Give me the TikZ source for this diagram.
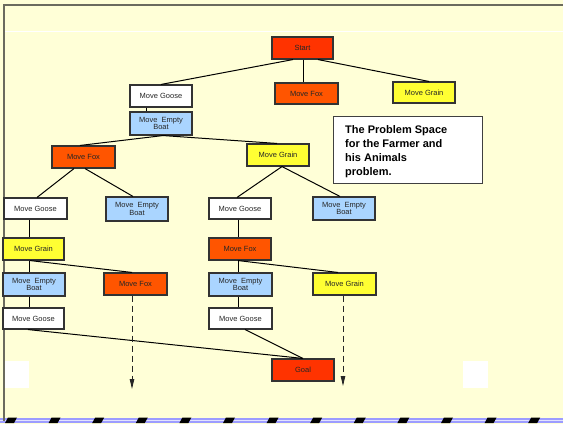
\documentclass[tikz,border=0pt]{standalone}
\usepackage{fontspec}
\setmainfont{Liberation Sans}
\usetikzlibrary{arrows.meta}
\definecolor{bgy}{HTML}{FFFFD7}
\definecolor{cstart}{HTML}{FF3300}
\definecolor{cfox}{HTML}{FF5500}
\definecolor{cgrain}{HTML}{FFFF33}
\definecolor{cboat}{HTML}{AAD5FF}
\definecolor{cframe}{HTML}{6B6B5E}
\definecolor{cstripe}{HTML}{9C9CFF}
\tikzset{
  nd/.style={draw=black!80, line width=1.1pt, minimum width=62pt, minimum height=22pt,
    inner sep=0pt, font=\fontsize{7.5}{7.5}\selectfont, text=black!85, align=center},
  startbox/.style={nd, fill=cstart},
  foxbox/.style={nd, fill=cfox},
  grainbox/.style={nd, fill=cgrain},
  boatbox/.style={nd, fill=cboat, minimum height=23pt},
  goosebox/.style={nd, fill=white},
  edge/.style={line width=1pt, black},
  darrow/.style={line width=0.9pt, black!85, dash pattern=on 6pt off 4pt, -{Triangle[length=10pt,width=4.5pt]}}
}
\begin{document}
\begin{tikzpicture}[x=1pt,y=-1pt]
\useasboundingbox (0,0) rectangle (563,424);
\fill[bgy] (0,0) rectangle (563,424);
\draw[white, line width=1pt] (4,31.5) -- (563,31.5);
% bottom stripe
\fill[cstripe] (0,417.5) rectangle (563,423);
\draw[white!70!cstripe, line width=0.8pt] (0,420.2) -- (563,420.2);
\foreach \k in {0,...,12}{
  \pgfmathsetmacro{\cx}{11+43.6*\k}
  \fill[black] (\cx-6,423) -- (\cx+3,423) -- (\cx+6,417.5) -- (\cx-3,417.5) -- cycle;
}
% frame
\draw[cframe, line width=2pt] (3,5) -- (563,5);
\draw[cframe, line width=1.5pt] (3.75,4) -- (3.75,421);
% white squares
\fill[white] (5,361) rectangle (29,388);
\fill[white] (463,361) rectangle (488,388);

% nodes
\node[startbox, minimum width=61pt] (start) at (302.5,48) {Start};
\node[foxbox, minimum width=63pt, minimum height=21pt] (foxA) at (306.5,93.5) {Move Fox};
\node[goosebox] (gooseA) at (161,96) {Move Goose};
\node[grainbox, minimum height=21pt] (grainA) at (424,92.5) {Move Grain};
\node[boatbox] (boatA) at (161,123.5) {Move\ \ Empty\\Boat};
\node[foxbox, minimum width=63pt] (foxB) at (83.5,157) {Move Fox};
\node[grainbox] (grainB) at (278,155) {Move Grain};
\node[goosebox, minimum width=63pt, minimum height=21pt] (gooseC1) at (35.5,208.5) {Move Goose};
\node[boatbox, minimum height=24pt] (boatC2) at (137,209) {Move\ \ Empty\\Boat};
\node[goosebox, minimum height=21pt] (gooseC3) at (240,208.5) {Move Goose};
\node[boatbox] (boatC4) at (344,208.5) {Move\ \ Empty\\Boat};
\node[grainbox, minimum width=61pt] (grainD1) at (33.5,249) {Move Grain};
\node[foxbox] (foxD2) at (240,249) {Move Fox};
\node[boatbox] (boatE1) at (34,284.5) {Move\ \ Empty\\Boat};
\node[foxbox, minimum width=63pt] (foxE2) at (135.5,284) {Move Fox};
\node[boatbox, minimum width=63pt] (boatE3) at (240.5,284.5) {Move\ \ Empty\\Boat};
\node[grainbox, minimum width=63pt] (grainE4) at (344.5,284) {Move Grain};
\node[goosebox, minimum width=61pt, minimum height=21pt] (gooseF1) at (33.5,318.5) {Move Goose};
\node[goosebox, minimum width=63pt, minimum height=21pt] (gooseF3) at (240.5,318.5) {Move Goose};
\node[startbox] (goal) at (303,370) {Goal};
\node[draw=black!75, line width=1pt, fill=white, minimum width=149pt, minimum height=67pt,
      inner sep=0pt] (title) at (407.5,149.5) {};
\node[anchor=north west, inner sep=0pt, align=left, font=\fontsize{11}{14}\selectfont\bfseries]
  (titletext) at (345,125.5) {The Problem Space\\for the Farmer and\\his Animals\\problem.};

% edges
\draw[edge] ([xshift=-9.5pt]start.south) -- (gooseA.north);
\draw[edge] ([xshift=0.5pt]start.south) -- ([xshift=-3.5pt]foxA.north);
\draw[edge] ([xshift=15.5pt]start.south) -- ([xshift=5pt]grainA.north);
\draw[edge] ([xshift=-15pt]gooseA.south) -- ([xshift=-15pt]boatA.north);
\draw[edge] ([xshift=2pt]boatA.south) -- ([xshift=-3.5pt]foxB.north);
\draw[edge] ([xshift=2pt]boatA.south) -- ([xshift=-1pt]grainB.north);
\draw[edge] ([xshift=-9.5pt]foxB.south) -- ([xshift=1.5pt]gooseC1.north);
\draw[edge] ([xshift=1.5pt]foxB.south) -- ([xshift=-4pt]boatC2.north);
\draw[edge] ([xshift=4pt]grainB.south) -- ([xshift=-3pt]gooseC3.north);
\draw[edge] ([xshift=4pt]grainB.south) -- ([xshift=-4pt]boatC4.north);
\draw[edge] ([xshift=-6.5pt]gooseC1.south) -- ([xshift=-4.5pt]grainD1.north);
\draw[edge] ([xshift=-4.5pt]grainD1.south) -- ([xshift=-5pt]boatE1.north);
\draw[edge] ([xshift=-3.5pt]grainD1.south) -- ([xshift=-3.5pt]foxE2.north);
\draw[edge] ([xshift=-5pt]boatE1.south) -- ([xshift=-4.5pt]gooseF1.north);
\draw[edge] ([xshift=-5.5pt]gooseF1.south) -- (goal.north);
\draw[edge] ([xshift=-2pt]gooseC3.south) -- ([xshift=-2pt]foxD2.north);
\draw[edge] ([xshift=-2pt]foxD2.south) -- ([xshift=-2.5pt]boatE3.north);
\draw[edge] ([xshift=-2pt]foxD2.south) -- ([xshift=-6.5pt]grainE4.north);
\draw[edge] ([xshift=-2.5pt]boatE3.south) -- ([xshift=-2.5pt]gooseF3.north);
\draw[edge] ([xshift=4.5pt]gooseF3.south) -- (goal.north);
\coordinate (endL) at (132,389);
\coordinate (endR) at (343,386);
\draw[darrow] ([xshift=-3.5pt]foxE2.south) -- (endL);
\draw[darrow] ([xshift=-1.5pt]grainE4.south) -- (endR);
\end{tikzpicture}
\end{document}
